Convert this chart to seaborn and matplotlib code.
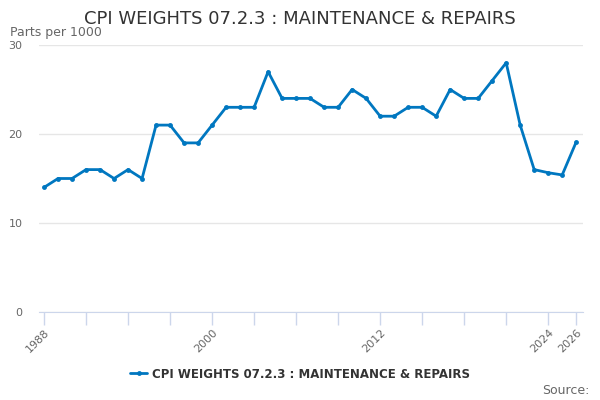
import matplotlib
matplotlib.use("Agg")
import matplotlib.pyplot as plt
import seaborn as sns
import pandas as pd

years = list(range(1988, 2027))
weights = [14, 15, 15, 16, 16, 15, 16, 15, 21, 21, 19, 19, 21, 23, 23, 23,
           27, 24, 24, 24, 23, 23, 25, 24, 22, 22, 23, 23, 22, 25, 24, 24,
           26, 28, 21, 16, 15.65, 15.4, 19.1]
series_name = "CPI WEIGHTS 07.2.3 : MAINTENANCE & REPAIRS"

df = pd.DataFrame({"Year": years, "Weight": weights})

sns.set_style("white")
plt.rcParams['font.family'] = ['DejaVu Sans']

fig = plt.figure(figsize=(6, 4), dpi=100)
ax = fig.add_axes([0.065, 0.22, 0.907, 0.6675])

sns.lineplot(data=df, x="Year", y="Weight", ax=ax, color="#0077c0",
             linewidth=2, marker="o", markersize=3.5, markeredgewidth=0,
             label=series_name)

ax.set_xlim(1987.64, 2026.5)
ax.set_ylim(0, 30)
ax.set_yticks([0, 10, 20, 30])
ax.grid(axis="y", color="#e6e6e6", linewidth=1)
ax.set_axisbelow(True)

# tick every 3 yrs, labels only at a few
ticks = list(range(1988, 2025, 3)) + [2026]
ax.set_xticks(ticks)
ax.set_xticklabels([str(t) if t in (1988, 2000, 2012, 2024, 2026) else "" for t in ticks],
                   rotation=45, ha="right", rotation_mode="anchor")
ax.tick_params(axis="x", bottom=True, direction="out", length=9, width=1,
               color="#ccd6eb", labelsize=8, labelcolor="#666666", pad=2)
ax.tick_params(axis="y", length=0, labelsize=8, labelcolor="#666666", pad=12)

for s in ["top", "right", "left"]:
    ax.spines[s].set_visible(False)
ax.spines["bottom"].set_color("#ccd6eb")
ax.set_xlabel("")
ax.set_ylabel("")

fig.text(0.5, 0.953, series_name, ha="center", va="center", fontsize=13, color="#333333")
fig.text(0.017, 0.918, "Parts per 1000", ha="left", va="center", fontsize=9, color="#666666")
fig.text(0.983, 0.025, "Source:", ha="right", va="center", fontsize=9, color="#666666")

leg = ax.legend(loc="center", bbox_to_anchor=(0.5, 0.065), bbox_transform=fig.transFigure,
                frameon=False, prop={"weight": "bold", "size": 8.5}, handlelength=1.5,
                handletextpad=0.4)
for t in leg.get_texts():
    t.set_color("#333333")

fig.savefig("out.png", dpi=100)
